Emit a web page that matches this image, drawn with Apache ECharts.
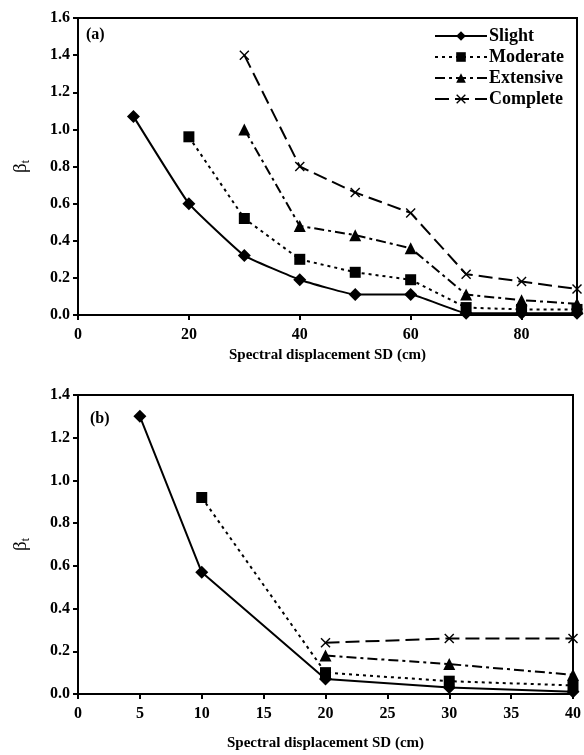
<!DOCTYPE html>
<html>
<head>
<meta charset="utf-8">
<script src="https://cdn.jsdelivr.net/npm/echarts@6/dist/echarts.min.js"></script>
<style>
  html, body { margin: 0; padding: 0; background: #fff; }
  #main { width: 584px; height: 755px; }
</style>
</head>
<body>
<div id="main"></div>
<script>
// panel (a)
const sdA = [10, 20, 30, 40, 50, 60, 70, 80, 90];
const slightA = [1.07, 0.60, 0.32, 0.19, 0.11, 0.11, 0.01, 0.01, 0.01];
const moderateA = [null, 0.96, 0.52, 0.30, 0.23, 0.19, 0.04, 0.03, 0.03];
const extensiveA = [null, null, 1.00, 0.48, 0.43, 0.36, 0.11, 0.08, 0.06];
const completeA = [null, null, 1.40, 0.80, 0.66, 0.55, 0.22, 0.18, 0.14];
// panel (b)
const sdB = [5, 10, 20, 30, 40];
const slightB = [1.30, 0.57, 0.07, 0.03, 0.01];
const moderateB = [null, 0.92, 0.10, 0.06, 0.04];
const extensiveB = [null, null, 0.18, 0.14, 0.09];
const completeB = [null, null, 0.24, 0.26, 0.26];

const FONT = '"Liberation Serif", "DejaVu Serif", serif';
const crossPath = 'path://M0,1L1,0L5,4L9,0L10,1L6,5L10,9L9,10L5,6L1,10L0,9L4,5Z';

function pairs(xs, ys) {
  const out = [];
  xs.forEach((x, i) => { if (ys[i] != null) out.push([x, ys[i]]); });
  return out;
}

const styles = {
  Slight: { type: 'solid', symbol: 'diamond', size: 13 },
  Moderate: { type: [3, 4], symbol: 'rect', size: 11 },
  Extensive: { type: [10, 4, 3, 4], symbol: 'triangle', size: 12 },
  Complete: { type: [14, 6], symbol: crossPath, size: 10 }
};

function makeSeries(name, data, idx, smooth) {
  const s = styles[name];
  return {
    name: name,
    type: 'line',
    xAxisIndex: idx,
    yAxisIndex: idx,
    data: data,
    symbol: s.symbol,
    symbolSize: s.size,
    smooth: smooth || false,
    clip: false,
    itemStyle: { color: '#000' },
    lineStyle: { color: '#000', width: 2, type: s.type }
  };
}

const axisCommon = {
  axisLine: { show: true, onZero: false, lineStyle: { color: '#000', width: 2 } },
  axisTick: { show: true, inside: false, length: 5, lineStyle: { color: '#000', width: 2 } },
  splitLine: { show: false },
  axisLabel: { color: '#000', fontFamily: FONT, fontWeight: 'bold', fontSize: 16 }
};

function xAxis(idx, max, interval, gap) {
  return Object.assign({}, axisCommon, {
    type: 'value', gridIndex: idx, min: 0, max: max, interval: interval,
    name: 'Spectral displacement SD (cm)',
    nameLocation: 'middle', nameGap: gap,
    nameTextStyle: { color: '#000', fontFamily: FONT, fontWeight: 'bold', fontSize: 15 },
    axisLabel: Object.assign({}, axisCommon.axisLabel, { margin: 12, showMaxLabel: max % interval === 0 })
  });
}

function yAxis(idx, max) {
  return Object.assign({}, axisCommon, {
    type: 'value', gridIndex: idx, min: 0, max: max, interval: 0.2,
    name: '{b|β}{s|t}',
    nameLocation: 'middle', nameGap: 46, nameRotate: 90,
    nameTextStyle: {
      rich: {
        b: { fontFamily: FONT, fontSize: 19, color: '#000' },
        s: { fontFamily: FONT, fontSize: 12, color: '#000', verticalAlign: 'bottom', padding: [9, 0, 0, 0] }
      }
    },
    axisLabel: Object.assign({}, axisCommon.axisLabel, {
      margin: 8, formatter: v => v.toFixed(1)
    })
  });
}

const chart = echarts.init(document.getElementById('main'));
chart.setOption({
  backgroundColor: '#fff',
  animation: false,
  grid: [
    { left: 78, top: 18, width: 499, height: 297, show: true, borderColor: '#000', borderWidth: 2, backgroundColor: 'transparent' },
    { left: 78, top: 395, width: 499, height: 299, show: true, borderColor: '#000', borderWidth: 2, backgroundColor: 'transparent' }
  ],
  xAxis: [xAxis(0, 90, 20, 33), xAxis(1, 40, 5, 42)],
  yAxis: [yAxis(0, 1.6), yAxis(1, 1.4)],
  legend: {
    orient: 'vertical',
    left: 429,
    top: 22,
    itemWidth: 52,
    itemHeight: 12,
    itemGap: 3,
    textStyle: { color: '#000', fontFamily: FONT, fontWeight: 'bold', fontSize: 18, padding: [0, 0, 0, -3] },
    data: ['Slight', 'Moderate', 'Extensive', 'Complete']
  },
  graphic: [
    { type: 'text', left: 86, top: 27, style: { text: '(a)', font: 'bold 16px ' + FONT, fill: '#000' } },
    { type: 'text', left: 90, top: 411, style: { text: '(b)', font: 'bold 16px ' + FONT, fill: '#000' } }
  ],
  series: [
    makeSeries('Slight', pairs(sdA, slightA), 0, 0.1),
    makeSeries('Moderate', pairs(sdA, moderateA), 0),
    makeSeries('Extensive', pairs(sdA, extensiveA), 0),
    makeSeries('Complete', pairs(sdA, completeA), 0),
    makeSeries('Slight', pairs(sdB, slightB), 1),
    makeSeries('Moderate', pairs(sdB, moderateB), 1),
    makeSeries('Extensive', pairs(sdB, extensiveB), 1),
    makeSeries('Complete', pairs(sdB, completeB), 1)
  ]
});
</script>
</body>
</html>
